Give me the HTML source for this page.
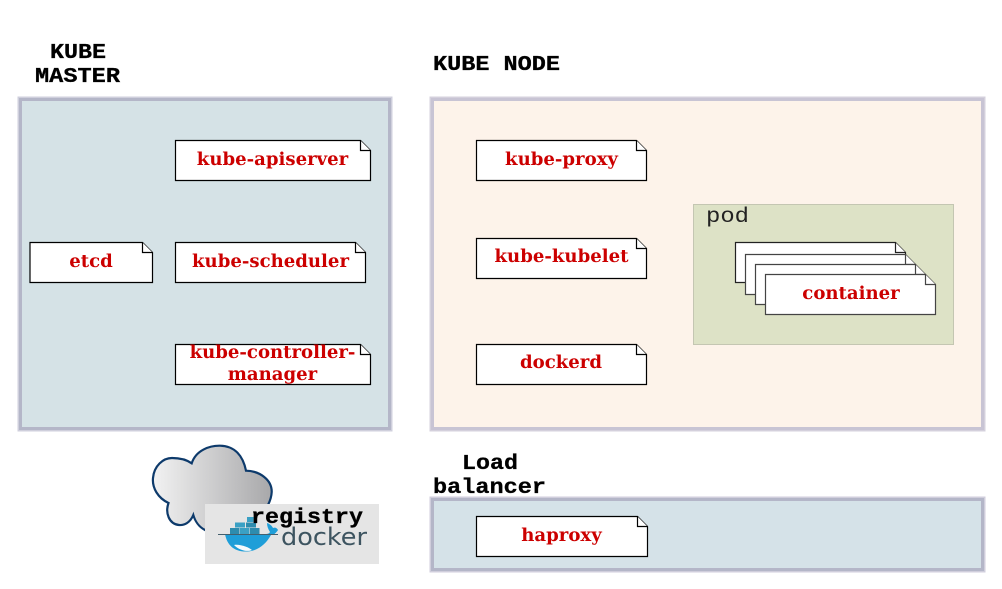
<!DOCTYPE html>
<html><head><meta charset="utf-8">
<style>
html,body{margin:0;padding:0;background:#fff;width:1002px;height:589px;overflow:hidden}
svg{display:block}
.t{font-family:"DejaVu Serif","Liberation Serif",serif;font-weight:bold;font-size:18.1px;fill:#cc0000;text-anchor:middle}
.h{font-family:"Liberation Mono",monospace;font-weight:bold;font-size:21px;fill:#000;stroke:#000;stroke-width:.3}
</style></head><body>
<svg width="1002" height="589" viewBox="0 0 1002 589" xmlns="http://www.w3.org/2000/svg">
<defs>
<linearGradient id="cl" x1="0" x2="1" y1="0" y2="0"><stop offset="0" stop-color="#f2f2f2"/><stop offset="1" stop-color="#a8a8aa"/></linearGradient>
</defs>
<!-- panels -->
<g>
<rect x="20" y="99" width="370" height="330" fill="#d5e2e6" stroke="#cfcfdc" stroke-width="5"/>
<rect x="20.5" y="99.5" width="369" height="329" fill="#d5e2e6" stroke="#b4b6c8" stroke-width="3"/>
<rect x="432" y="99" width="551" height="330" fill="#fdf3ea" stroke="#d4d0dc" stroke-width="5"/>
<rect x="432.5" y="99.5" width="550" height="329" fill="#fdf3ea" stroke="#c8c4d4" stroke-width="3"/>
<rect x="432" y="499" width="551" height="71" fill="#d5e2e8" stroke="#d0cedc" stroke-width="5"/>
<rect x="432.5" y="499.5" width="550" height="70" fill="#d5e2e8" stroke="#b4b6c8" stroke-width="3"/>
</g>
<!-- headings -->
<text class="h" x="50" y="58" textLength="56" lengthAdjust="spacingAndGlyphs">KUBE</text>
<text class="h" x="35" y="82" textLength="85" lengthAdjust="spacingAndGlyphs">MASTER</text>
<text class="h" x="433" y="70" textLength="127" lengthAdjust="spacingAndGlyphs">KUBE NODE</text>
<text class="h" x="462" y="469" textLength="56" lengthAdjust="spacingAndGlyphs">Load</text>
<text class="h" x="433" y="493" textLength="113" lengthAdjust="spacingAndGlyphs">balancer</text>
<!-- notes -->
<g fill="#fff" stroke="#000" stroke-width="1.2">
<path d="M175.5 140.5H360.5L370.5 150.5V180.5H175.5Z"/><path d="M360.5 140.5V150.5H370.5"/>
<path d="M30 242.5H142.5L152.5 252.5V282.5H30Z"/><path d="M142.5 242.5V252.5H152.5"/>
<path d="M175.5 242.5H355.5L365.5 252.5V282.5H175.5Z"/><path d="M355.5 242.5V252.5H365.5"/>
<path d="M175.5 344.5H360.5L370.5 354.5V384.5H175.5Z"/><path d="M360.5 344.5V354.5H370.5"/>
<path d="M476.5 140.5H636.5L646.5 150.5V180.5H476.5Z"/><path d="M636.5 140.5V150.5H646.5"/>
<path d="M476.5 238.5H636.5L646.5 248.5V278.5H476.5Z"/><path d="M636.5 238.5V248.5H646.5"/>
<path d="M476.5 344.5H636.5L646.5 354.5V384.5H476.5Z"/><path d="M636.5 344.5V354.5H646.5"/>
<path d="M476.5 516.5H637.5L647.5 526.5V556.5H476.5Z"/><path d="M637.5 516.5V526.5H647.5"/>
</g>
<text class="t" x="272.500" y="165">kube-apiserver</text>
<text class="t" x="91" y="267">etcd</text>
<text class="t" x="270.500" y="267">kube-scheduler</text>
<text class="t" x="272.500" y="358">kube-controller-</text>
<text class="t" x="272.500" y="380">manager</text>
<text class="t" x="561.500" y="165">kube-proxy</text>
<text class="t" x="561.500" y="262">kube-kubelet</text>
<text class="t" x="561" y="368">dockerd</text>
<text class="t" x="561.500" y="541">haproxy</text>
<!-- pod -->
<rect x="693.500" y="204.500" width="260" height="140" fill="#dde2c6" stroke="#c4c6b2" stroke-width="1"/>
<text x="706" y="222" font-family="'Liberation Mono',monospace" font-size="21" fill="#222" textLength="43" lengthAdjust="spacingAndGlyphs">pod</text>
<g fill="#fff" stroke="#222" stroke-width="1.2">
<path d="M735.500 242.500H895.500L905.500 252.500V282.500H735.500Z"/><path d="M895.500 242.500V252.500H905.500"/>
<path d="M745.500 254.500H905.500L915.500 264.500V294.500H745.500Z" stroke="#444"/><path d="M905.500 254.500V264.500H915.500" stroke="#444"/>
<path d="M755.500 264.500H915.500L925.500 274.500V304.500H755.500Z" stroke="#444"/><path d="M915.500 264.500V274.500H925.500" stroke="#444"/>
<path d="M765.500 274.500H925.500L935.500 284.500V314.500H765.500Z" stroke="#444"/><path d="M925.500 274.500V284.500H935.500" stroke="#444"/>
</g>
<text class="t" x="851" y="299">container</text>
<!-- cloud -->
<path d="M191.700 463.300C196 450 210 445.500 220 445.700C235 446 243 456 246 470.700C260 471 272 480 271.700 492C271.500 497 270 501 268 505L205 530C199 527 195 521 193.300 515C190 523 184 525.500 179 525C169 524 165 513 168.500 503C158 498 152 488 153 478C154 466 163 458 172 458C180 458 187 460 191.700 463.300Z" fill="url(#cl)" stroke="#0d3a6b" stroke-width="2.200"/>
<!-- docker box -->
<rect x="205" y="504" width="174" height="60" fill="#e5e5e5"/>
<g>
<rect x="230" y="528" width="9.500" height="6" fill="#2d8cae"/><rect x="240" y="528" width="9.500" height="6" fill="#3aa0c4"/><rect x="250" y="528" width="9.500" height="6" fill="#2d8cae"/>
<rect x="235" y="522.500" width="10" height="5" fill="#3aa0c4"/><rect x="246" y="522.500" width="10" height="5" fill="#2d8cae"/>
<rect x="247" y="517" width="6.500" height="5" fill="#3aa0c4"/>
<path d="M225 534H264C267 534 269 534 270 532C268 529 267 526 267 523C270 524 272 526 273 528C275 527 277 528 278 530C276 533 274 535 271 535C266 544 258 551 247 551.500C234 552 227 545 225 534Z" fill="#1f9ed8"/>
<path d="M234 545C240 551 248 552 252 550C248 547 240 544 234 545Z" fill="#f4fafc"/>
<rect x="218" y="534" width="60" height="1" fill="#44606e"/>
</g>
<text x="281" y="545" font-family="'DejaVu Sans',sans-serif" font-size="24" textLength="86" lengthAdjust="spacingAndGlyphs" fill="#3d5460">docker</text>
<text x="251" y="523" class="h" textLength="112" lengthAdjust="spacingAndGlyphs">registry</text>
</svg>
</body></html>
